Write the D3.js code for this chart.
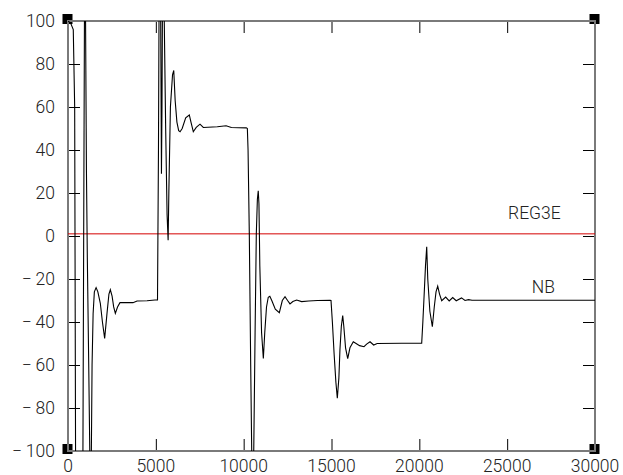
<!DOCTYPE html>
<html>
<head>
<meta charset="utf-8">
<script src="https://cdn.jsdelivr.net/npm/d3@7"></script>
<style>
body { margin: 0; background: #fff; }
svg text { font-family: Roboto, "Liberation Sans", sans-serif; font-weight: 300; fill: #222; }
</style>
</head>
<body>
<script>
// NB response (time, value)
var nbTime = [0, 150, 300, 380, 430, 480, 700, 850, 970, 1000, 1050, 1100, 1180, 1240, 1290,
    1330, 1370, 1430, 1500, 1600, 1700, 1840, 1960, 2087, 2220, 2330, 2410, 2510, 2600, 2695,
    2820, 2960, 3300, 3700, 3930, 4500, 4950, 5095,
    5150, 5200, 5240, 5290, 5320, 5350, 5390, 5430, 5480, 5560, 5640, 5700, 5740, 5830, 5950,
    6020, 6100, 6200, 6300, 6380, 6500, 6700, 6906, 7000, 7133, 7300, 7515, 7703, 8500, 9000,
    9300, 10150, 10210,
    10250, 10321, 10400, 10458, 10510, 10560, 10650, 10720, 10780, 10830, 10870, 10920, 11020,
    11120, 11200, 11300, 11400, 11490, 11600, 11800, 12030, 12200, 12354, 12500, 12638, 12800,
    13017, 13300, 13700, 14200, 14916, 14972,
    15050, 15150, 15250, 15331, 15420, 15480, 15560, 15638, 15700, 15800, 15923, 16050, 16240,
    16400, 16600, 16851, 17000, 17193, 17400, 17600, 19000, 20134,
    20200, 20270, 20350, 20420, 20480, 20600, 20741, 20850, 20950, 21046, 21150, 21274, 21500,
    21700, 21900, 22100, 22400, 22600, 22800, 23000, 30000];
var nbValue = [100, 99, 96, 60, -100, -200, -250, -100, 180, 100, 30, -10, -60, -100, -130,
    -100, -60, -36, -26, -24, -26, -31.3, -40, -47.6, -36, -27, -25, -28, -33, -36,
    -33, -31, -31, -31, -30.2, -30.1, -29.8, -29.8,
    40, 140, 160, 80, 29, 60, 130, 130, 100, 50, 10, -2, 20, 60, 75,
    77, 63, 53, 49, 48.5, 50, 55, 56.3, 53, 48.5, 50.5, 52, 50.5, 50.8, 51.3,
    50.5, 50.3, 50,
    40, 1, -60, -100, -150, -110, -45, 1, 17, 21, 15, -14, -45,
    -57, -45, -33, -28.5, -28, -30, -34, -35.7, -30, -28.2, -30, -31.6, -30.5,
    -29.8, -30.5, -30.2, -30, -29.9, -30,
    -40, -55, -68, -75.5, -66, -53, -42, -37, -42, -52, -57, -52, -49.2,
    -50, -51, -51.5, -50.3, -49.2, -50.7, -50, -49.9, -49.9,
    -40, -28, -14, -5, -20, -35, -42.2, -33, -26, -23.3, -27, -30.1, -28.4,
    -30.2, -28.6, -30.1, -28.8, -30, -29.6, -29.9, -29.9];

// REG3E reference level
var reg3eTime = [0, 30000];
var reg3eValue = [1, 1];

var xTicks = [0, 5000, 10000, 15000, 20000, 25000, 30000];
var yTicks = [-100, -80, -60, -40, -20, 0, 20, 40, 60, 80, 100];

drawChart();

function drawChart() {
    var width = 623, height = 475;
    var pl = 68, pr = 595, pt = 21, pb = 451;

    var svg = d3.select("body").append("svg")
        .attr("width", width)
        .attr("height", height);

    var x = d3.scaleLinear().domain([0, 30000]).range([pl, pr]);
    var y = d3.scaleLinear().domain([-100, 100]).range([pb, pt]);

    function fmt(d) {
        return d < 0 ? "\u2212\u2009" + Math.abs(d) : String(d);
    }

    // corner markers
    [[pl, pt], [pr, pt], [pl, pb], [pr, pb]].forEach(function(c) {
        svg.append("rect")
            .attr("x", c[0] - 5.5).attr("y", c[1] - 7)
            .attr("width", 10).attr("height", 10)
            .attr("fill", "#000");
    });

    svg.append("defs").append("clipPath").attr("id", "plot")
        .append("rect")
        .attr("x", pl).attr("y", pt)
        .attr("width", pr - pl).attr("height", pb - pt);

    // ticks on all four sides, pointing in
    var axes = [
        {axis: d3.axisBottom(x), t: "translate(0," + pb + ")", vals: xTicks},
        {axis: d3.axisTop(x), t: "translate(0," + pt + ")", vals: xTicks},
        {axis: d3.axisLeft(y), t: "translate(" + pl + ",0)", vals: yTicks},
        {axis: d3.axisRight(y), t: "translate(" + pr + ",0)", vals: yTicks}
    ];
    axes.forEach(function(a) {
        var g = svg.append("g")
            .attr("transform", a.t)
            .call(a.axis.tickValues(a.vals).tickSize(-12).tickFormat(""));
        g.select(".domain").remove();
        g.selectAll(".tick line").attr("stroke", "#000").attr("stroke-width", 1);
        g.selectAll(".tick text").remove();
    });

    // frame
    svg.append("rect")
        .attr("x", pl).attr("y", pt)
        .attr("width", pr - pl).attr("height", pb - pt)
        .attr("fill", "none")
        .attr("stroke", "#7a7a7a")
        .attr("stroke-width", 2);

    // tick labels
    svg.selectAll("text.xl")
        .data(xTicks)
        .enter().append("text")
        .attr("class", "xl")
        .attr("x", function(d) { return x(d); })
        .attr("y", 472)
        .attr("text-anchor", "middle")
        .attr("font-size", 17.5)
        .text(fmt);

    svg.selectAll("text.yl")
        .data(yTicks)
        .enter().append("text")
        .attr("class", "yl")
        .attr("x", 55)
        .attr("y", function(d) { return y(d); })
        .attr("dy", "0.36em")
        .attr("text-anchor", "end")
        .attr("font-size", 17.5)
        .text(fmt);

    var line = d3.line()
        .x(function(d) { return x(d[0]); })
        .y(function(d) { return y(d[1]); });

    var plot = svg.append("g").attr("clip-path", "url(#plot)");

    plot.append("path")
        .datum(d3.zip(reg3eTime, reg3eValue))
        .attr("d", line)
        .attr("fill", "none")
        .attr("stroke", "#d40000")
        .attr("stroke-width", 1);

    plot.append("path")
        .datum(d3.zip(nbTime, nbValue))
        .attr("d", line)
        .attr("fill", "none")
        .attr("stroke", "#000")
        .attr("stroke-width", 1.1);

    // series names
    svg.append("text")
        .attr("x", x(25050)).attr("y", y(7.9))
        .attr("font-size", 17.5)
        .text("REG3E");
    svg.append("text")
        .attr("x", x(26400)).attr("y", y(-26.5))
        .attr("font-size", 17.5)
        .text("NB");
}
</script>
</body>
</html>
